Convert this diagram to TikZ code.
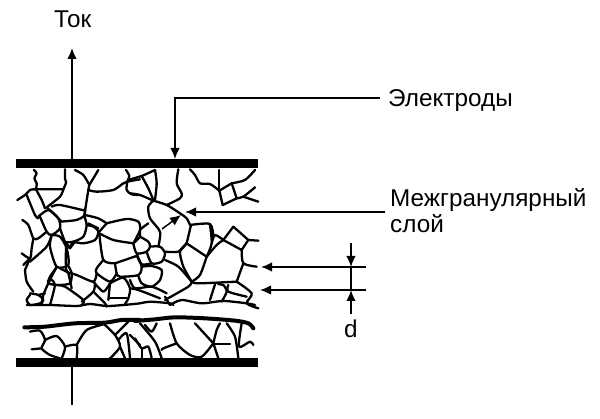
\documentclass[tikz,border=0pt]{standalone}
\usepackage{fontspec}
\setmainfont{Liberation Sans}
\usetikzlibrary{arrows.meta}
\tikzset{
  grain/.style={draw=black,line width=2.3pt,line join=round,line cap=round},
  band/.style={draw=black,line width=4pt,line join=round,line cap=round},
  plate/.style={fill=black,draw=none},
  lead/.style={draw=black,line width=1.5pt},
  tip/.style={-{Latex[length=11pt,width=9.5pt]}},
  lbl/.style={font=\fontsize{24.3}{27}\selectfont,anchor=base west,inner sep=0pt,text=black},
  zoomed/.style={x=0.33333pt,y=-0.33333pt}
}
\newcommand{\gp}[1]{\draw[grain] plot[smooth,tension=0.45] coordinates {#1};}
\begin{document}
\begin{tikzpicture}[x=1pt,y=-1pt]
\useasboundingbox (0,0) rectangle (600,419);
% top-left grains
\begin{scope}[shift={(10,150)},zoomed]
\gp{(72,60)(80,70)(73,85)(80,100)(78,118)}
\gp{(165,58)(165,85)(168,98)(160,118)}
\gp{(22,150)(45,135)(60,120)(78,118)(160,118)}
\gp{(160,118)(150,140)(110,172)}
\gp{(78,118)(95,150)(105,175)}
\gp{(50,135)(75,195)(85,205)}
\gp{(110,172)(135,195)(155,215)}
\gp{(125,170)(150,165)(225,182)}
\gp{(195,60)(220,75)(238,105)}
\gp{(238,105)(265,60)}
\gp{(238,105)(235,120)(225,185)(225,205)}
\gp{(235,120)(260,125)(310,120)(340,100)(352,95)(390,88)}
\gp{(348,60)(358,78)(352,95)(350,120)(365,133)(390,135)}
\end{scope}
% top-right grains
\begin{scope}[shift={(130,150)},zoomed]
\gp{(0,88)(35,78)(75,60)}
\gp{(75,60)(80,100)(75,150)}
\gp{(35,78)(55,115)(70,150)}
\gp{(0,130)(30,135)(70,152)}
\gp{(145,58)(140,100)(155,130)(150,145)(110,165)}
\gp{(70,152)(110,165)(150,190)(170,205)(180,225)}
\gp{(70,152)(55,170)(60,205)(90,245)(85,290)}
\gp{(180,225)(240,222)(250,260)}
\gp{(180,58)(195,75)(210,100)(240,102)(268,122)}
\gp{(268,122)(268,60)}
\gp{(268,122)(278,165)}
\gp{(278,165)(320,145)}
\gp{(320,145)(305,100)}
\gp{(305,100)(268,122)}
\gp{(320,145)(340,140)(375,112)}
\gp{(340,140)(385,155)}
\gp{(305,100)(345,90)(375,60)}
\end{scope}
% centre grains
\begin{scope}[shift={(60,205)},zoomed]
\gp{(0,50)(50,45)(72,32)(75,10)}
\gp{(72,32)(80,60)(70,95)(40,110)(18,112)}
\gp{(80,60)(100,65)(115,80)(105,105)(70,115)(40,110)}
\gp{(40,110)(28,128)}
\gp{(28,128)(18,112)}
\gp{(75,30)(115,40)(140,55)}
\gp{(140,55)(118,80)}
\gp{(85,55)(115,70)}
\gp{(140,55)(200,42)(235,50)(240,75)(220,115)}
\gp{(118,85)(160,105)(220,115)}
\gp{(220,115)(240,95)(240,75)(265,55)}
\gp{(240,95)(265,110)(270,125)(260,140)(230,145)(220,115)}
\gp{(270,125)(300,125)(315,145)(305,170)(275,175)(260,140)}
\gp{(230,150)(245,178)(275,175)}
\gp{(118,85)(130,165)(165,175)}
\gp{(165,175)(170,205)(180,215)(235,210)(245,185)(232,152)}
\gp{(232,152)(165,175)}
\gp{(130,165)(110,190)(110,205)(150,230)(170,205)}
\gp{(110,205)(100,230)(50,210)(25,203)}
\gp{(18,112)(18,190)(25,203)}
\gp{(25,203)(0,190)}
\gp{(25,203)(35,250)}
\gp{(245,185)(275,183)(305,195)(300,225)(275,245)(245,235)(235,212)}
\gp{(100,230)(130,260)(150,235)}
\gp{(150,235)(145,285)}
\gp{(105,235)(100,260)(65,290)}
\gp{(100,260)(135,295)(140,305)}
\gp{(150,235)(190,218)(210,250)(205,280)(195,297)}
\gp{(147,280)(200,280)}
\gp{(210,225)(225,250)(275,245)(320,265)}
\gp{(210,250)(235,255)(300,280)}
\end{scope}
% left grains
\begin{scope}[shift={(15,205)},zoomed]
\gp{(70,35)(100,15)(130,40)(135,70)(110,90)(95,80)(75,35)}
\gp{(22,45)(40,60)(55,100)(70,100)(95,80)}
\gp{(55,100)(50,130)(45,160)(20,145)}
\gp{(45,160)(30,195)}
\gp{(45,160)(25,180)}
\gp{(45,170)(95,125)(110,90)}
\gp{(110,90)(135,95)(155,130)(160,180)(125,185)(105,125)(110,90)}
\gp{(125,185)(100,235)(85,270)(80,300)}
\gp{(135,70)(150,110)(165,130)}
\gp{(165,130)(180,110)}
\gp{(125,187)(105,215)(100,235)(130,240)(165,235)(170,205)(160,183)}
\gp{(30,195)(35,230)(55,260)}
\end{scope}
% right grains
\begin{scope}[shift={(165,225)},zoomed]
\gp{(78,0)(65,55)}
\gp{(65,55)(40,80)(0,80)}
\gp{(65,55)(125,95)}
\gp{(125,95)(140,55)(135,0)}
\gp{(65,55)(45,80)(55,125)(80,170)}
\gp{(80,170)(105,150)(125,95)}
\gp{(125,95)(155,60)(175,45)}
\gp{(175,45)(205,5)}
\gp{(205,5)(250,45)}
\gp{(250,45)(230,75)}
\gp{(230,75)(175,45)}
\gp{(250,45)(280,47)}
\gp{(140,55)(150,30)(175,45)}
\gp{(230,75)(235,115)(275,125)}
\gp{(235,115)(215,170)}
\gp{(215,170)(100,175)(80,170)}
\gp{(80,170)(70,185)(0,225)}
\gp{(0,105)(40,125)(80,170)}
\gp{(215,170)(260,205)(245,235)(280,250)}
\gp{(150,178)(135,225)}
\gp{(160,178)(175,180)(185,200)(170,230)}
\gp{(190,180)(190,200)(245,215)}
\gp{(0,215)(15,240)}
\gp{(15,240)(50,225)(110,235)(175,228)(245,235)(270,240)}
\end{scope}
% bottom row of the upper block
\begin{scope}[shift={(10,250)},zoomed]
\gp{(60,135)(50,150)(60,165)(90,160)(100,150)(85,135)(60,130)}
\gp{(85,135)(105,130)}
\gp{(125,90)(135,105)(120,165)}
\gp{(135,105)(165,110)(220,150)(215,165)}
\gp{(50,165)(120,165)(200,168)(240,162)(290,168)(340,165)(390,160)(420,155)(480,160)(490,165)}
\end{scope}
% lower block, left
\begin{scope}[shift={(15,310)},zoomed]
\gp{(45,65)(75,62)(90,90)(80,115)(105,135)(135,145)}
\gp{(90,90)(125,78)(150,110)(140,145)}
\gp{(50,118)(80,115)}
\gp{(150,110)(185,105)(185,145)}
\gp{(185,105)(215,60)(270,42)}
\gp{(270,45)(300,75)(315,110)(285,145)}
\gp{(300,75)(340,35)}
\gp{(310,90)(335,70)(345,145)}
\gp{(315,110)(330,145)}
\gp{(345,75)(375,105)}
\draw[band] plot[smooth,tension=0.5] coordinates {(28,52)(90,50)(180,40)(270,38)(320,30)(375,30)};
\end{scope}
% lower block, right
\begin{scope}[shift={(135,310)},zoomed]
\gp{(15,40)(60,95)(80,145)}
\gp{(65,40)(50,65)(30,45)}
\gp{(105,40)(125,100)(165,135)(200,140)(235,100)}
\gp{(235,100)(180,40)}
\gp{(125,100)(85,115)(80,120)}
\gp{(235,100)(250,145)}
\gp{(235,100)(245,60)(255,40)}
\gp{(240,103)(285,103)}
\gp{(275,40)(300,80)(310,145)}
\gp{(320,40)(312,110)(345,95)(355,105)}
\gp{(0,85)(20,115)(40,110)(50,145)}
\gp{(20,118)(20,145)}
\draw[band] plot[smooth,tension=0.5] coordinates {(0,33)(60,28)(120,22)(210,25)(300,32)(340,40)(355,55)};
\end{scope}
% small arrow inside the grain
\coordinate (sA) at (162,229);
\coordinate (sB) at (181,215);
\draw[lead,tip] (sA) -- (sB);
% plates
\node[plate,minimum width=242pt,minimum height=9pt,inner sep=0pt,anchor=north west] (top) at (16,159) {};
\node[plate,minimum width=242pt,minimum height=9pt,inner sep=0pt,anchor=north west] (bot) at (16,358) {};
% labels
\node[lbl] (tok) at (54,28) {Ток};
\node[lbl] (el) at (388,107) {Электроды};
\node[lbl] (mg) at (390,207) {Межгранулярный};
\node[lbl] (sl) at (390,233) {слой};
\node[lbl] (d) at (344,338) {d};
% leaders
\coordinate (tokTip) at (72,48);
\coordinate (leadEnd) at (72,405);
\coordinate (elA) at (380,98);
\coordinate (elB) at (175,98);
\coordinate (slA) at (385,212);
\coordinate (slB) at (185,212);
\coordinate (d1a) at (366,267);
\coordinate (d1b) at (261,267);
\coordinate (d2a) at (366,290);
\coordinate (d2b) at (260,290);
\coordinate (dTop) at (351,243);
\coordinate (dBot) at (351,314);
\draw[lead,tip] (top.north -| tokTip) -- (tokTip);
\draw[lead] (bot.south -| leadEnd) -- (leadEnd);
\draw[lead,tip] (elA) -- (elB) -- (elB |- top.north);
\draw[lead,tip] (slA) -- (slB);
\draw[lead,tip] (d1a) -- (d1b);
\draw[lead,tip] (d2a) -- (d2b);
\draw[lead,tip] (dTop) -- (dTop |- d1a);
\draw[lead,tip] (dBot) -- (dBot |- d2a);
\draw[lead] (dTop |- d1a) -- (dTop |- d2a);
\end{tikzpicture}
\end{document}
